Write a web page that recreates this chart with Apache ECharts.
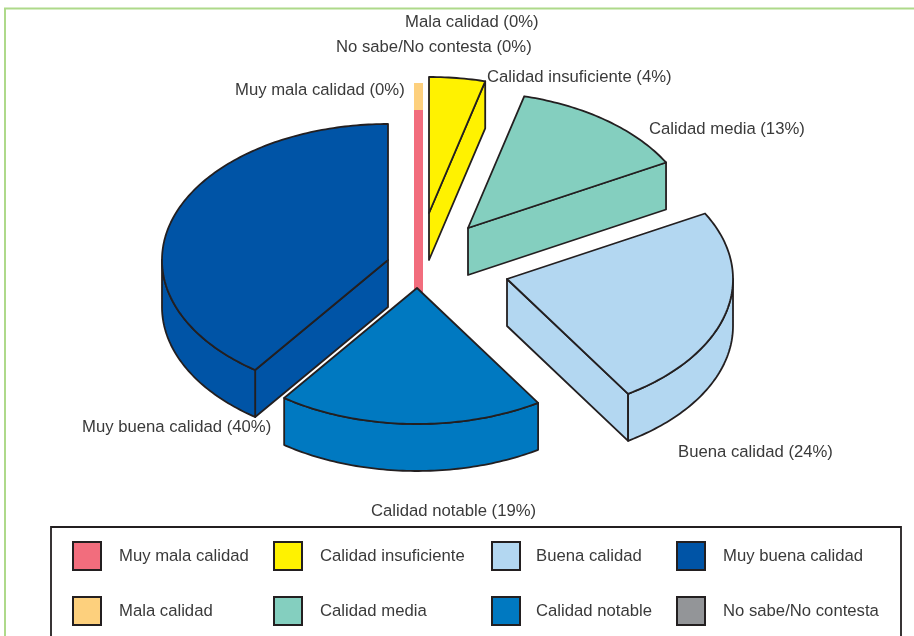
<!DOCTYPE html>
<html>
<head>
<meta charset="utf-8">
<title>Calidad</title>
<style>
  html, body { margin: 0; padding: 0; background: #fff; }
  #chart { width: 914px; height: 636px; }
</style>
<script src="https://cdn.jsdelivr.net/npm/echarts@6/dist/echarts.min.js"></script>
</head>
<body>
<div id="chart"></div>
<script>
// data, clockwise from 12 o'clock
var categories = ['Mala calidad', 'Muy mala calidad', 'Calidad insuficiente', 'Calidad media', 'Buena calidad', 'Calidad notable', 'Muy buena calidad', 'No sabe/No contesta'];
var percents = [0, 0, 4, 13, 24, 19, 40, 0];

var colors = ['#fdd07d', '#f26d7d', '#fff200', '#84cfbf', '#b3d7f1', '#0079c1', '#0054a6', '#939598'];

// legend columns, top row then bottom row
var legendColumns = [
  ['Muy mala calidad', 'Mala calidad'],
  ['Calidad insuficiente', 'Calidad media'],
  ['Buena calidad', 'Calidad notable'],
  ['Muy buena calidad', 'No sabe/No contesta']
];
var legendLeft = [72, 273, 491, 676];
var legendTextGap = [13, 13, 11, 13];

// layout of the fake 3D pie
var radiusX = 226, radiusY = 136, depth = 47;
var centerX = 417, centerY = 260;
// how far each slice is pulled out of the center
var explode = [[0, 0], [0, 0], [12, -47], [51, -32], [90, 19], [0, 28], [-29, 0], [0, 0]];
// 0% slices are only a thin strip: [left, top, width, height]
var strips = [[414, 83, 9, 27], [414, 110, 9, 182], null, null, null, null, null, null];
// label anchor: left edge and vertical middle
var labelPos = [[405, 22], [235, 90], [487, 77], [649, 129], [678, 452], [371, 511], [82, 427], [336, 47]];

var lineColor = '#231f20';
var textColor = '#3a3a3a';
var fontSize = 16.7;
var fontName = '"Liberation Sans", Arial, sans-serif';

function ellipsePoint(ax, ay, deg) {
  var rad = deg * Math.PI / 180;
  return [ax + radiusX * Math.sin(rad), ay - radiusY * Math.cos(rad)];
}

function arcPoints(ax, ay, from, to) {
  var pts = [];
  for (var a = from; a < to; a += 1) {
    pts.push(ellipsePoint(ax, ay, a));
  }
  pts.push(ellipsePoint(ax, ay, to));
  return pts;
}

function shape(points, color) {
  return {
    type: 'polygon',
    shape: { points: points },
    style: { fill: color, stroke: lineColor, lineWidth: 1.8, lineJoin: 'round' }
  };
}

function renderSlice(params, api) {
  var idx = params.seriesIndex;
  var start = api.value(0) * 3.6;
  var end = (api.value(0) + api.value(1)) * 3.6;
  var children = [];

  if (api.value(1) > 0) {
    var ax = centerX + explode[idx][0];
    var ay = centerY + explode[idx][1];

    // radial side walls, only those turned towards the viewer
    [start, end].forEach(function (deg, i) {
      var sin = Math.sin(deg * Math.PI / 180);
      if ((i === 0 && sin < -1e-6) || (i === 1 && sin > 1e-6)) {
        var p = ellipsePoint(ax, ay, deg);
        children.push(shape([[ax, ay], p, [p[0], p[1] + depth], [ax, ay + depth]], colors[idx]));
      }
    });

    // front rim between 90 and 270 degrees
    var from = Math.max(start, 90), to = Math.min(end, 270);
    if (from < to) {
      var top = arcPoints(ax, ay, from, to);
      var bottom = top.map(function (p) { return [p[0], p[1] + depth]; }).reverse();
      children.push(shape(top.concat(bottom), colors[idx]));
    }

    // top face
    children.push(shape([[ax, ay]].concat(arcPoints(ax, ay, start, end)), colors[idx]));
  } else if (strips[idx]) {
    children.push({
      type: 'rect',
      shape: { x: strips[idx][0], y: strips[idx][1], width: strips[idx][2], height: strips[idx][3] },
      style: { fill: colors[idx] }
    });
  }

  children.push({
    type: 'text',
    style: {
      x: labelPos[idx][0],
      y: labelPos[idx][1],
      text: categories[idx] + ' (' + api.value(1) + '%)',
      fill: textColor,
      font: fontSize + 'px ' + fontName,
      textAlign: 'left',
      textVerticalAlign: 'middle'
    }
  });

  return { type: 'group', children: children };
}

var cumulative = 0;
var series = categories.map(function (name, i) {
  var s = {
    name: name,
    type: 'custom',
    coordinateSystem: 'none',
    renderItem: renderSlice,
    silent: true,
    animation: false,
    itemStyle: { color: colors[i] },
    // notable slice lies over the strips and the muy buena wall
    z: name === 'Calidad notable' ? 4 : 3,
    data: [[cumulative, percents[i]]]
  };
  cumulative += percents[i];
  return s;
});

var legends = legendColumns.map(function (col, i) {
  return {
    orient: 'vertical',
    left: legendLeft[i],
    top: 541,
    padding: 0,
    itemWidth: 28,
    itemHeight: 28,
    itemGap: 25,
    selectedMode: false,
    icon: 'rect',
    itemStyle: { borderColor: lineColor, borderWidth: 2 },
    textStyle: { color: textColor, fontSize: fontSize, fontFamily: fontName, padding: [0, 0, 0, legendTextGap[i]] },
    data: col
  };
});

var chart = echarts.init(document.getElementById('chart'), null, { renderer: 'canvas' });
chart.setOption({
  animation: false,
  backgroundColor: '#fff',
  color: colors,
  legend: legends,
  graphic: [
    { type: 'polyline', z: 0, shape: { points: [[5, 640], [5, 8.5], [920, 8.5]] }, style: { fill: null, stroke: '#aed98a', lineWidth: 2 } },
    { type: 'rect', z: 0, shape: { x: 51, y: 527, width: 850, height: 120 }, style: { fill: '#fff', stroke: lineColor, lineWidth: 1.8 } }
  ],
  series: series
});
</script>
</body>
</html>
